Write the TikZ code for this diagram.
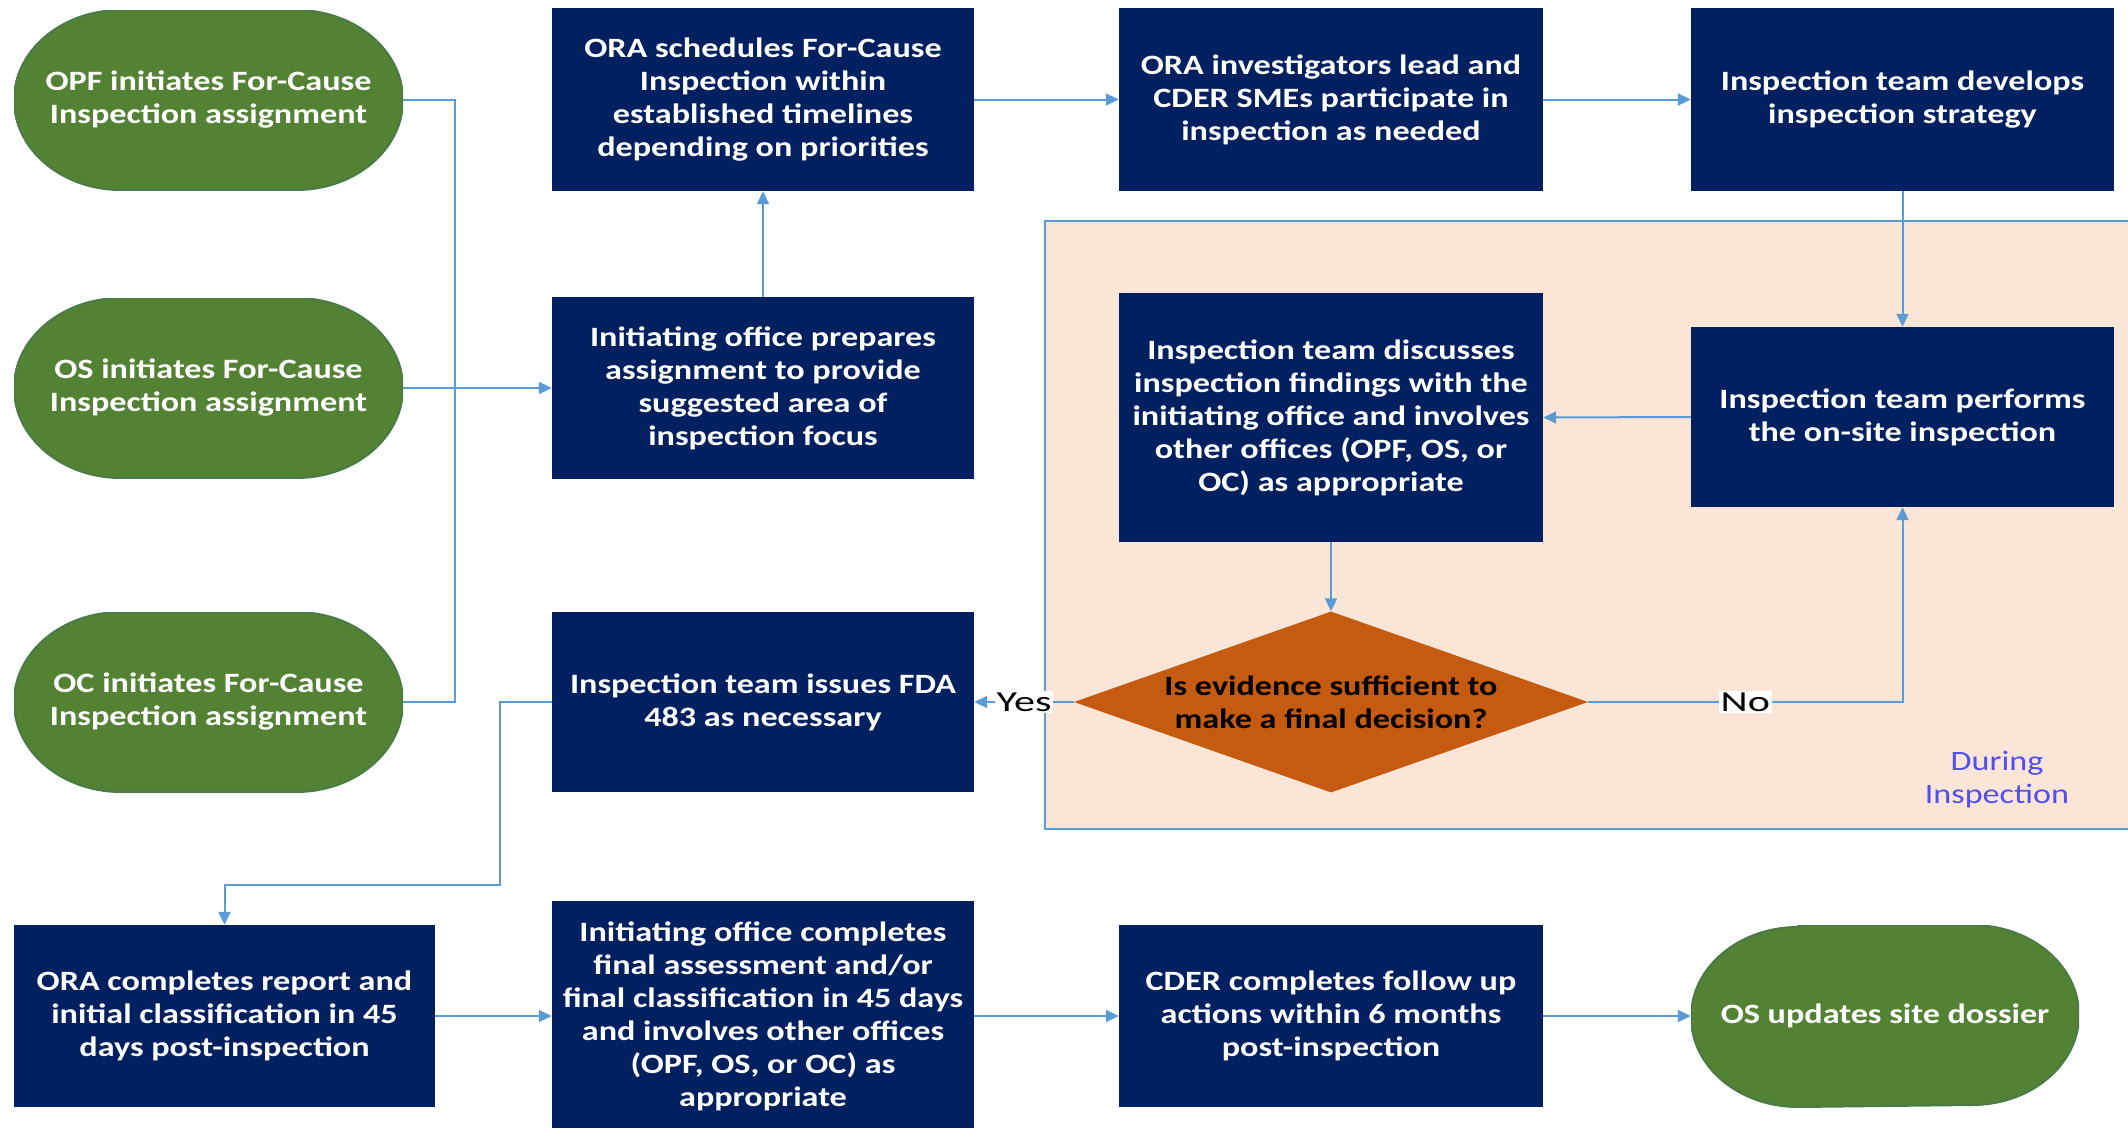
\documentclass[tikz,border=0pt]{standalone}
\usepackage{fontspec}
\setmainfont{Carlito}[FakeStretch=1.22]
\newfontfamily\lblfont{Carlito}[FakeStretch=1.45]
\usetikzlibrary{shapes.geometric,arrows.meta,calc}
\definecolor{navy}{HTML}{002060}
\definecolor{ogreen}{HTML}{548235}
\definecolor{oborder}{HTML}{4A7A45}
\definecolor{dorange}{HTML}{C55A11}
\definecolor{peach}{HTML}{FBE5D6}
\definecolor{connc}{HTML}{5B9BD5}
\definecolor{during}{HTML}{5050F0}
\begin{document}
\begin{tikzpicture}[x=1pt,y=1pt,
  txt/.style={font=\bfseries\fontsize{28}{33}\selectfont, text=white, align=center},
  box/.style={txt, fill=navy, inner sep=0pt, minimum width=422pt},
  oval/.style={txt, inner sep=0pt, minimum width=389pt, minimum height=180pt,
    path picture={\fill[ogreen, draw=oborder, line width=2pt]
      ([xshift=107pt]path picture bounding box.north west) --
      ([xshift=-107pt]path picture bounding box.north east)
      arc[start angle=90, end angle=-90, x radius=107pt, y radius=90pt] --
      ([xshift=107pt]path picture bounding box.south west)
      arc[start angle=270, end angle=90, x radius=107pt, y radius=90pt] -- cycle;}},
  decision/.style={diamond, fill=dorange, aspect=2.84, inner sep=-3pt,
    minimum width=514pt, minimum height=181pt,
    font=\bfseries\fontsize{28}{33}\selectfont, text=black, align=center},
  conn/.style={draw=connc, line width=2pt},
  arr/.style={conn, -{Triangle[length=13pt,width=12pt]}},
  lbl/.style={fill=white, text=black, font=\lblfont\fontsize{29}{34}\selectfont, inner sep=2pt}
]
\useasboundingbox (0,0) rectangle (2128,-1127);
\fill[white] (0,0) rectangle (2128,-1127);

% During Inspection region
\filldraw[fill=peach, draw=connc, line width=2pt] (1045,-221) rectangle (2140,-829);
\node[font=\fontsize{28}{33}\selectfont, text=during, align=center] (dur) at (1997,-780) {During\\Inspection};

% Column 1
\node[oval] (opf) at (208.5,-100) {OPF initiates For-Cause\\Inspection assignment};
\node[oval] (os)  at (208.5,-388) {OS initiates For-Cause\\Inspection assignment};
\node[oval] (oc)  at (208.5,-702) {OC initiates For-Cause\\Inspection assignment};
\node[box, minimum width=421pt, minimum height=182pt] (oracomp) at (224.5,-1016)
  {ORA completes report and\\initial classification in 45\\days post-inspection};

% Column 2
\node[box, minimum height=183pt] (sched) at (763,-99.5)
  {ORA schedules For-Cause\\Inspection within\\established timelines\\depending on priorities};
\node[box, minimum height=182pt] (prep) at (763,-388)
  {Initiating office prepares\\assignment to provide\\suggested area of\\inspection focus};
\node[box, minimum height=180pt] (fda) at (763,-702)
  {Inspection team issues FDA\\483 as necessary};
\node[box, minimum height=230pt] (icomp) at (763,-1016)
  {Initiating office completes\\final assessment and/or\\final classification in 45 days\\and involves other offices\\(OPF, OS, or OC) as\\appropriate};

% Column 3
\node[box, minimum width=424pt, minimum height=183pt] (invest) at (1331,-99.5)
  {ORA investigators lead and\\CDER SMEs participate in\\inspection as needed};
\node[box, minimum width=424pt, minimum height=249pt] (disc) at (1331,-417.5)
  {Inspection team discusses\\inspection findings with the\\initiating office and involves\\other offices (OPF, OS, or\\OC) as appropriate};
\node[decision] (dec) at (1331,-702)
  {Is evidence sufficient to\\make a final decision?};
\node[box, minimum width=424pt, minimum height=182pt] (cder) at (1331,-1016)
  {CDER completes follow up\\actions within 6 months\\post-inspection};

% Column 4
\node[box, minimum width=423pt, minimum height=183pt] (dev) at (1902.5,-99.5)
  {Inspection team develops\\inspection strategy};
\node[box, minimum width=423pt, minimum height=180pt] (perf) at (1902.5,-417)
  {Inspection team performs\\the on-site inspection};
\node[oval, minimum width=388pt, minimum height=182pt] (osupd) at (1885,-1016)
  {OS updates site dossier};

% helper coordinates
\coordinate (bus) at (455,0);
\coordinate (busb) at (500,0);
\coordinate (turn) at (0,-885);

% Connectors
\draw[conn] (opf.east) -- (opf.east -| bus) -- (oc.east -| bus) -- (oc.east);
\draw[arr] (os.east) -- (prep.west);
\draw[arr] (prep.north) -- (sched.south);
\draw[arr] (sched.east) -- (invest.west);
\draw[arr] (invest.east) -- (dev.west);
\draw[arr] (dev.south) -- (perf.north);
\draw[arr] (perf.west) -- (disc.east);
\draw[arr] (disc.south) -- (dec.north);
\draw[arr] (dec.east) -| node[lbl, pos=0.25] {No} (perf.south);
\draw[arr] (dec.west) -- node[lbl] {Yes} (fda.east);
\draw[arr] (fda.west) -- (fda.west -| busb) -- (busb |- turn) -- (oracomp.north |- turn) -- (oracomp.north);
\draw[arr] (oracomp.east) -- (icomp.west);
\draw[arr] (icomp.east) -- (cder.west);
\draw[arr] (cder.east) -- (osupd.west);
\end{tikzpicture}
\end{document}
